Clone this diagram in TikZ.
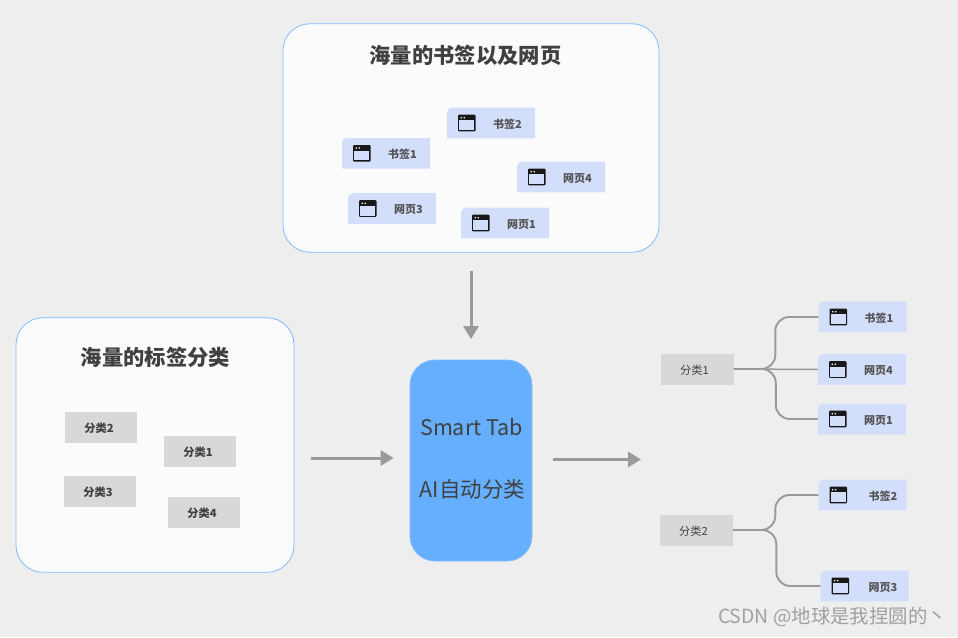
\documentclass[tikz,border=0pt]{standalone}
\usepackage{fontspec}
\setmainfont{Noto Sans CJK SC}
\usetikzlibrary{arrows.meta, positioning, calc}
\definecolor{smartbg}{HTML}{EEEEEE}
\definecolor{smartpanel}{HTML}{FBFBFB}
\definecolor{smartedge}{HTML}{7FBCFF}
\definecolor{smartblue}{HTML}{66AFFF}
\definecolor{smartcard}{HTML}{D3DEFB}
\definecolor{smartcat}{HTML}{D8D8D8}
\definecolor{smartline}{HTML}{9A9A9A}
\definecolor{smarttext}{HTML}{404040}
\definecolor{smartmark}{HTML}{A0A0A0}
\tikzset{
  tabicon/.pic={
    \fill[black!90, rounded corners=1pt] (-8.8,-8.3) rectangle (8.8,8.3);
    \fill[smartcard] (-7.4,-2.6) rectangle (7.4,7);
    \fill[white] (-5.6,-5.3) circle (0.9) (-2.6,-5.3) circle (0.9);
  }
}
% one card: [text push] name, x, y, text
\newcommand{\tabcard}[5][33pt]{%
  \fill[smartcard] ({#3-44},{#4+15.3}) [rounded corners=5pt] -- ({#3-44},{#4-15.3}) [sharp corners] -- ({#3+44},{#4-15.3}) -- ({#3+44},{#4+15.3}) -- cycle;
  \node[cardbox] (#2) at (#3,#4) {\hspace*{#1}#5};
  \pic at ([xshift=20pt]#2.west) {tabicon};
}
\begin{document}
\begin{tikzpicture}[
    x=1pt, y=-1pt,
    panelbox/.style={draw=smartedge, fill=smartpanel, line width=0.8pt, rounded corners=27pt, inner sep=0pt},
    cardbox/.style={minimum width=88pt, minimum height=30.6pt, inner sep=0pt, text height=11.5pt, text depth=1pt, font=\fontsize{11}{13}\selectfont\bfseries, text=smarttext!90},
    catbox/.style={fill=smartcat, minimum width=72.5pt, minimum height=31pt, inner sep=0pt, text height=11.5pt, text depth=1pt, font=\fontsize{11.2}{13}\selectfont, text=smarttext},
    catbold/.style={catbox, font=\fontsize{11.2}{13}\selectfont\bfseries},
    titletext/.style={font=\fontsize{21.3}{25}\selectfont\bfseries, text=smarttext, inner sep=0pt},
    arr/.style={-{Triangle[length=13pt,width=15pt]}, line width=3pt, smartline},
    branch/.style={line width=1.9pt, smartline, rounded corners=14pt}
  ]
    \path[use as bounding box, fill=smartbg] (0,0) rectangle (958,637);

    % panels
    \node[panelbox, minimum width=376pt, minimum height=228.5pt] (marks) at (471,138) {};
    \node[panelbox, minimum width=278pt, minimum height=254.5pt] (cats) at (155,445) {};
    \node[draw=smartedge, fill=smartblue, line width=0.8pt, rounded corners=25pt, minimum width=122pt, minimum height=201pt, inner sep=0pt] (ai) at (471,460.5) {};
    \node[titletext] (markstitle) at (465.5,55) {海量的书签以及网页};
    \node[titletext] (catstitle) at (155.5,357) {海量的标签分类};
    \node[font=\fontsize{21.5}{26}\selectfont, text=smarttext, inner sep=0pt] (aitop) at (471.5,427) {Smart Tab};
    \node[font=\fontsize{21.5}{26}\selectfont, text=smarttext, inner sep=0pt] (aibot) at (472.5,489) {AI自动分类};

    % cards in the top panel
    \tabcard{marka}{386}{153.3}{书签1}
    \tabcard{markb}{491}{123}{书签2}
    \tabcard{pagea}{505}{223}{网页1}
    \tabcard{pagec}{392}{208.5}{网页3}
    \tabcard{paged}{561}{177}{网页4}

    % categories in the left panel
    \node[catbold] (cata) at (200,451.5) {\hspace*{-4pt}分类1};
    \node[catbold] (catb) at (101,427.5) {\hspace*{-4pt}分类2};
    \node[catbold] (catc) at (100,491.5) {\hspace*{-4pt}分类3};
    \node[catbold] (catd) at (204,512) {\hspace*{-4pt}分类4};

    % result on the right
    \node[catbox] (resa) at (697.5,369) {\hspace*{-6pt}分类1};
    \node[catbox] (resb) at (696.5,530) {\hspace*{-6pt}分类2};
    \tabcard{outa}{862.5}{317}{书签1}
    \tabcard{outb}{862}{369.5}{网页4}
    \tabcard{outc}{862}{419}{网页1}
    \tabcard[41pt]{outd}{862.5}{495}{书签2}
    \tabcard[37pt]{oute}{864.5}{586}{网页3}

    \coordinate (outend) at (641,459.5);
    \draw[arr, shorten <=18pt, shorten >=20.5pt] (marks) -- (ai);
    \draw[arr, shorten <=17pt, shorten >=16pt] ([yshift=-13pt]cats.east) -- ([yshift=2.5pt]ai.west);
    \draw[arr, shorten <=21pt] ([yshift=1pt]ai.east) -- (outend);

    \draw[branch] (resa.east) -| ([xshift=-43pt]outa.west) -- (outa.west);
    \draw[branch] (resa.east) -| ([xshift=-42pt]outc.west) -- (outc.west);
    \draw[line width=1.5pt, smartline] (resa.east) -- (outb.west);
    \draw[branch] (resb.east) -| ([xshift=-43pt]outd.west) -- (outd.west);
    \draw[branch] (resb.east) -| ([xshift=-44pt]oute.west) -- (oute.west);

    \node[font=\fontsize{19.4}{23}\selectfont, text=smartmark, inner sep=0pt, anchor=east] (mark) at (947,617) {CSDN @地球是我捏圆的丶};
  \end{tikzpicture}
\end{document}
